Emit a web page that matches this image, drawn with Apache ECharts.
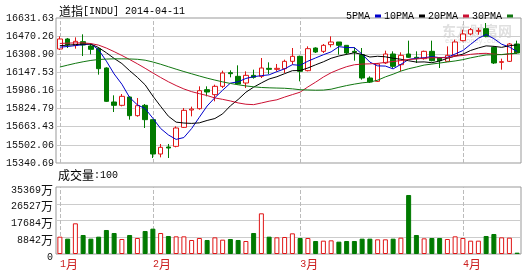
<!DOCTYPE html>
<html><head><meta charset="utf-8">
<script src="https://cdn.jsdelivr.net/npm/echarts@6/dist/echarts.min.js"></script>
<style>html,body{margin:0;padding:0;background:#fff}#c{width:532px;height:274px}</style>
</head><body><div id="c"></div>
<script>
const categories = [
 '2014-01-15','2014-01-16','2014-01-17','2014-01-21','2014-01-22','2014-01-23','2014-01-24','2014-01-27','2014-01-28','2014-01-29','2014-01-30','2014-01-31',
 '2014-02-03','2014-02-04','2014-02-05','2014-02-06','2014-02-07','2014-02-10','2014-02-11','2014-02-12','2014-02-13','2014-02-14','2014-02-18','2014-02-19','2014-02-20','2014-02-21','2014-02-24','2014-02-25','2014-02-26','2014-02-27','2014-02-28',
 '2014-03-03','2014-03-04','2014-03-05','2014-03-06','2014-03-07','2014-03-10','2014-03-11','2014-03-12','2014-03-13','2014-03-14','2014-03-17','2014-03-18','2014-03-19','2014-03-20','2014-03-21','2014-03-24','2014-03-25','2014-03-26','2014-03-27','2014-03-28','2014-03-31',
 '2014-04-01','2014-04-02','2014-04-03','2014-04-04','2014-04-07','2014-04-08','2014-04-09','2014-04-10'
];
const openPrices = [16355.6,16444.7,16388.3,16420.9,16382.3,16358.6,16186.5,15883.8,15854.1,15928.3,
 15762.1,15854.1,15726.5,15420.8,15483.1,15489.0,15658.2,15812.5,15824.4,15993.6,
 15949.1,16023.2,16144.9,16112.3,16052.9,16121.2,16112.3,16183.5,16174.6,16180.5,
 16245.8,16290.3,16162.7,16364.5,16334.9,16394.2,16418.0,16388.3,16334.9,16305.2,
 16097.4,16067.8,16231.0,16311.1,16216.2,16311.1,16281.4,16269.6,16334.9,16275.5,
 16245.8,16299.2,16429.8,16489.2,16512.9,16536.7,16370.5,16236.9,16245.8,16400.2];
const closePrices = [16444.7,16394.2,16423.9,16391.2,16352.7,16180.5,15889.7,15854.1,15934.2,15762.1,
 15851.1,15726.5,15420.8,15480.2,15474.2,15652.3,15809.6,15821.4,15984.7,15972.8,
 16023.2,16141.9,16136.0,16044.0,16121.2,16103.4,16186.5,16174.6,16183.5,16245.8,
 16290.3,16156.8,16358.6,16328.9,16388.3,16418.0,16388.3,16320.0,16326.0,16097.4,
 16061.8,16222.1,16311.1,16201.3,16299.2,16281.4,16272.5,16334.9,16251.8,16251.8,
 16299.2,16418.0,16489.2,16527.8,16521.8,16468.4,16231.0,16242.9,16400.2,16320.0];
const lowPrices = [16346.7,16364.5,16358.6,16293.3,16308.1,16127.1,15883.8,15794.7,15845.2,15726.5,
 15753.2,15652.3,15385.2,15391.1,15385.2,15480.2,15652.3,15756.2,15815.5,15934.2,
 15889.7,16008.4,16103.4,16038.1,16008.4,16091.5,16097.4,16133.0,16156.8,16141.9,
 16216.2,16067.8,16156.8,16320.0,16320.0,16370.5,16305.2,16305.2,16251.8,16082.6,
 16052.9,16061.8,16222.1,16186.5,16156.8,16275.5,16231.0,16260.7,16245.8,16186.5,
 16245.8,16290.3,16423.9,16477.3,16483.2,16459.5,16222.1,16171.6,16239.9,16311.1];
const highPrices = [16468.4,16453.6,16459.5,16486.2,16406.1,16370.5,16192.4,15943.1,15955.0,15934.2,
 15919.4,15865.9,15726.5,15510.0,15510.0,15667.1,15830.3,15842.2,16023.2,16023.2,
 16038.1,16162.7,16165.7,16210.2,16156.8,16171.6,16275.5,16236.9,16222.1,16260.7,
 16364.5,16296.3,16379.4,16370.5,16400.2,16468.4,16418.0,16388.3,16370.5,16364.5,
 16112.3,16231.0,16340.8,16334.9,16326.0,16429.8,16334.9,16340.8,16429.8,16281.4,
 16379.4,16438.7,16527.8,16542.6,16542.6,16587.1,16379.4,16269.6,16409.1,16429.8];
const volumes = [9150,8096,16192,10032,8096,9152,12672,11088,7920,10032,
 8448,12144,13376,11088,9504,9328,9328,7392,8448,7392,
 8800,7568,7920,7392,6864,11088,21472,9152,8800,8976,
 10912,8448,8448,6864,7040,7216,6512,6864,6864,8096,
 8096,7744,7744,8096,8624,31152,10032,8272,8448,8448,
 7920,9328,8448,7040,7040,9504,10560,8800,8624,704];
const ma5 = [16372,16378,16386,16394,16401.3,16348.5,16247.6,16133.6,16042.2,15924.1,
 15858.2,15825.6,15738.9,15648.1,15590.6,15550.8,15567.4,15647.5,15748.4,15848.2,
 15922.3,15988.8,16051.7,16063.6,16093.3,16109.3,16118.2,16125.9,16153.8,16178.8,
 16216.1,16210.2,16247.0,16276.1,16304.6,16330.1,16376.4,16368.7,16368.1,16309.9,
 16238.7,16205.5,16203.7,16178.7,16219.1,16263.0,16273.1,16277.9,16288.0,16278.5,
 16282.0,16311.1,16342.0,16397.2,16451.2,16485.0,16447.6,16398.4,16372.9,16332.5];
const ma10 = [16385,16390,16395,16400,16400,16368,16322,16272,16226,16162.7,
 16103.4,16036.6,15936.3,15845.2,15757.3,15704.5,15696.5,15693.2,15698.3,15719.4,
 15736.6,15778.1,15849.6,15906.0,15970.7,16015.8,16053.5,16088.8,16108.7,16136.0,
 16162.7,16164.2,16186.5,16215.0,16241.7,16273.1,16293.3,16307.9,16322.1,16307.3,
 16284.4,16290.9,16286.2,16273.4,16264.5,16250.9,16239.3,16240.8,16233.4,16248.8,
 16272.5,16292.1,16309.9,16342.6,16364.8,16383.5,16379.4,16370.2,16385.0,16391.9];
const ma20 = [16405,16408,16410,16410,16404,16390,16364,16332,16298,16262,
 16224,16184,16142,16102,16064,16030,16000,15976,15958,15941.0,
 15920.0,15907.4,15893.0,15875.6,15864.0,15860.2,15875.0,15891.0,15903.5,15927.7,
 15949.6,15971.2,16018.1,16060.5,16106.2,16144.5,16173.4,16198.3,16215.4,16221.6,
 16223.6,16227.6,16236.3,16244.2,16253.1,16262.0,16266.3,16274.3,16277.7,16278.0,
 16278.5,16291.5,16298.1,16308.0,16314.7,16317.2,16309.3,16305.5,16309.2,16320.3];
const ma30 = [16195,16212,16228,16242,16254,16262,16266,16268,16268,16267,
 16264,16256,16240,16220,16198,16176,16155,16135,16115,16096,
 16079,16063,16049,16037,16027,16019,16013,16010,16008,16006.0,
 16000.9,15993.0,15990.8,15988.7,15989.9,15997.8,16014.4,16030.0,16043.0,16054.2,
 16061.2,16077.8,16107.4,16131.5,16159.0,16180.0,16195.4,16212.5,16221.4,16230.7,
 16239.9,16249.1,16260.9,16277.0,16290.3,16302.5,16304.0,16306.3,16313.5,16316.0];
const priceTicks = ['15340.69','15502.06','15663.43','15824.79','15986.16','16147.53','16308.90','16470.26','16631.63'];
const volumeTicks = ['0','8842','17684','26527','35369'];

const PMIN = 15340.69, PMAX = 16631.63, PINT = (PMAX - PMIN) / 8;
const VMAX = 35369, VINT = VMAX / 4;
const UP = '#e01515', DOWN = '#007a00';
const mono = "'Liberation Mono','DejaVu Sans Mono',monospace";
const cjk = "'Noto Sans CJK SC',sans-serif";

const candleData = categories.map((d, i) => [openPrices[i], closePrices[i], lowPrices[i], highPrices[i]]);
const volData = volumes.map((v, i) => ({
  value: v,
  itemStyle: closePrices[i] >= openPrices[i]
    ? {color: '#fff', borderColor: UP, borderWidth: 1}
    : {color: DOWN, borderColor: DOWN, borderWidth: 1}
}));
const isMonthStart = i => i === 0 || categories[i].slice(5, 7) !== categories[i - 1].slice(5, 7);
const monthLines = categories.filter((d, i) => isMonthStart(i)).map(d => ({xAxis: d}));
const dashMark = {
  silent: true, symbol: ['none', 'none'], z: 1, label: {show: false},
  lineStyle: {type: 'dashed', color: '#bbb', width: 1}, emphasis: {disabled: true},
  data: monthLines
};

const chart = echarts.init(document.getElementById('c'), null, {renderer: 'canvas'});
chart.setOption({
  animation: false,
  backgroundColor: '#fff',
  legend: {
    right: 14, top: 6, align: 'right', icon: 'rect', itemWidth: 6, itemHeight: 3, itemGap: 3,
    selectedMode: false,
    textStyle: {fontFamily: mono, fontSize: 10, color: '#000'},
    data: ['5PMA', '10PMA', '20PMA', '30PMA']
  },
  graphic: [
    {type: 'text', left: 59, top: 5, z: 10, style: {text: '{a|道指}{b|[INDU] 2014-04-11}', rich: {a: {fontFamily: cjk, fontSize: 12, fill: '#000'}, b: {fontFamily: mono, fontSize: 10, fill: '#000'}}}},
    {type: 'text', left: 58, top: 169, z: 10, style: {text: '{a|成交量}{b|:100}', rich: {a: {fontFamily: cjk, fontSize: 12, fill: '#000'}, b: {fontFamily: mono, fontSize: 10, fill: '#000'}}}},
    {type: 'text', left: 442, top: 24, z: 0, style: {text: '东方财富网', fontFamily: cjk, fontSize: 14, fontWeight: 'bold', fill: '#e0e0e0'}},
    {type: 'text', left: 445, top: 38, z: 0, style: {text: 'eastmoney.com', fontFamily: mono, fontSize: 7, fill: '#e0e0e0'}}
  ],
  grid: [
    {left: 56, right: 11, top: 18, height: 145, show: true, borderColor: '#999', borderWidth: 1},
    {left: 56, right: 11, top: 187, height: 67, show: true, borderColor: '#999', borderWidth: 1}
  ],
  xAxis: [
    {type: 'category', gridIndex: 0, data: categories, boundaryGap: true,
     axisLine: {show: false}, axisTick: {show: false}, axisLabel: {show: false}, splitLine: {show: false}},
    {type: 'category', gridIndex: 1, data: categories, boundaryGap: true,
     axisLine: {show: false}, axisTick: {show: false}, splitLine: {show: false},
     axisLabel: {show: true, interval: (i) => isMonthStart(i), align: 'left', margin: 4,
       formatter: v => '{n|' + parseInt(v.slice(5, 7), 10) + '}{u|月}',
       rich: {n: {fontFamily: mono, fontSize: 10, color: '#cc2020'}, u: {fontFamily: cjk, fontSize: 12, color: '#cc2020'}}}}
  ],
  yAxis: [
    {type: 'value', gridIndex: 0, min: PMIN, max: PMAX, interval: PINT,
     axisLine: {show: false}, axisTick: {show: false},
     axisLabel: {margin: 2, color: '#111', fontFamily: mono, fontSize: 10, padding: [0, 0, 4, 0],
       formatter: v => priceTicks[Math.round((v - PMIN) / PINT)] || ''},
     splitLine: {show: true, showMinLine: false, showMaxLine: false, lineStyle: {color: '#ccc', width: 1}}},
    {type: 'value', gridIndex: 1, min: 0, max: VMAX, interval: VINT,
     axisLine: {show: false}, axisTick: {show: false},
     axisLabel: {margin: 3, padding: [6, 0, 0, 0],
       formatter: v => { const k = Math.round(v / VINT); return k === 0 ? '{n|0}' : '{n|' + volumeTicks[k] + '}{u|万}'; },
       rich: {n: {fontFamily: mono, fontSize: 10, color: '#111'}, u: {fontFamily: cjk, fontSize: 12, color: '#111'}}},
     splitLine: {show: true, showMinLine: false, showMaxLine: false, lineStyle: {color: '#ccc', width: 1}}}
  ],
  series: [
    {type: 'candlestick', name: 'K', xAxisIndex: 0, yAxisIndex: 0, data: candleData, barWidth: 5,
     itemStyle: {color: '#fff', color0: DOWN, borderColor: UP, borderColor0: DOWN, borderWidth: 1},
     markLine: dashMark},
    {type: 'line', name: '5PMA', xAxisIndex: 0, yAxisIndex: 0, data: ma5, symbol: 'none', z: 3,
     lineStyle: {width: 1, color: '#0000cc'}, itemStyle: {color: '#0000cc'}},
    {type: 'line', name: '10PMA', xAxisIndex: 0, yAxisIndex: 0, data: ma10, symbol: 'none', z: 3,
     lineStyle: {width: 1, color: '#000'}, itemStyle: {color: '#000'}},
    {type: 'line', name: '20PMA', xAxisIndex: 0, yAxisIndex: 0, data: ma20, symbol: 'none', z: 3,
     lineStyle: {width: 1, color: '#cc1133'}, itemStyle: {color: '#cc1133'}},
    {type: 'line', name: '30PMA', xAxisIndex: 0, yAxisIndex: 0, data: ma30, symbol: 'none', z: 3,
     lineStyle: {width: 1, color: '#117711'}, itemStyle: {color: '#117711'}},
    {type: 'bar', name: 'VOL', xAxisIndex: 1, yAxisIndex: 1, data: volData, barWidth: 5,
     markLine: dashMark}
  ]
});
</script></body></html>
